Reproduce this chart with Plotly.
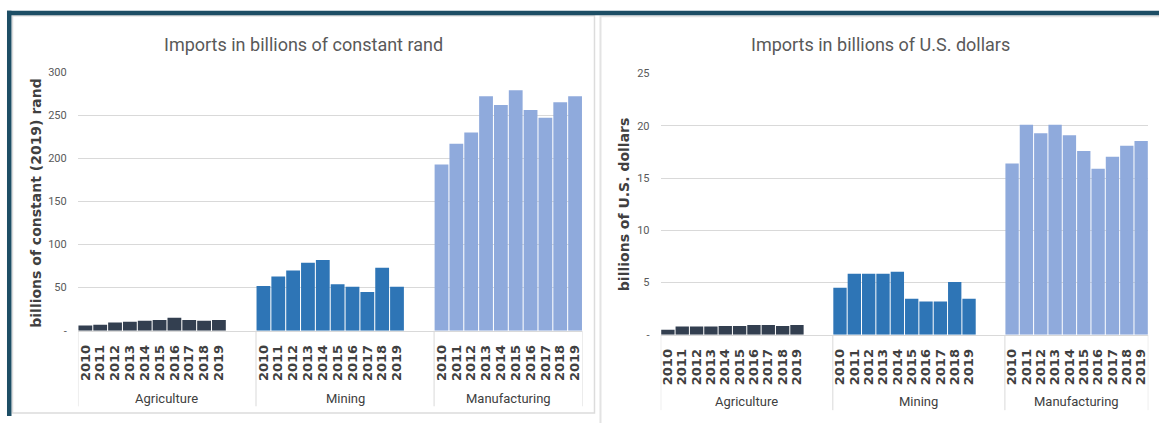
import plotly.graph_objects as go

W, H = 1159, 423

years = ["2010", "2011", "2012", "2013", "2014", "2015", "2016", "2017", "2018", "2019"]
sectors = ["Agriculture", "Mining", "Manufacturing"]
colors = ["#333f50", "#2e75b6", "#8faadc"]

rand_agriculture = [6, 7, 9.5, 10.5, 11.5, 12.5, 15, 12.5, 11.5, 12.5]
rand_mining = [52, 63, 70, 79, 82, 54, 51, 45, 73, 51]
rand_manufacturing = [193, 217, 230, 272, 262, 279, 256, 247, 265, 272]

usd_agriculture = [0.5, 0.8, 0.8, 0.8, 0.85, 0.85, 0.95, 0.95, 0.85, 0.95]
usd_mining = [4.5, 5.85, 5.85, 5.85, 6.05, 3.45, 3.2, 3.2, 5.05, 3.45]
usd_manufacturing = [16.4, 20.1, 19.3, 20.1, 19.1, 17.6, 15.9, 17.05, 18.1, 18.55]

rand_ticks = [0, 50, 100, 150, 200, 250, 300]
rand_ticktext = ["-", "50", "100", "150", "200", "250", "300"]
usd_ticks = [0, 5, 10, 15, 20, 25]
usd_ticktext = ["-", "5", "10", "15", "20", "25"]

SLOTS = 12  # 10 years + 2 blank slots per sector group


def px(x):
    return x / W


def py(y):
    return 1 - y / H


NARROW = "Liberation Sans Narrow, Arial Narrow, Roboto, sans-serif"
BOLD = "DejaVu Sans, Verdana, sans-serif"

fig = go.Figure()

panels = [
    dict(xa="x", ya="y", series=[rand_agriculture, rand_mining, rand_manufacturing]),
    dict(xa="x2", ya="y2", series=[usd_agriculture, usd_mining, usd_manufacturing]),
]

for p in panels:
    for g, vals in enumerate(p["series"]):
        fig.add_trace(go.Bar(
            x=[g * SLOTS + i for i in range(len(years))],
            y=vals,
            marker=dict(color=colors[g], line=dict(width=0)),
            xaxis=p["xa"], yaxis=p["ya"],
            showlegend=False, hoverinfo="skip",
        ))

tickvals = [g * SLOTS + i for g in range(3) for i in range(len(years))]
ticktext = years * 3
xr = [-0.5, 2 * SLOTS + len(years) - 0.5]

xcommon = dict(
    range=xr, tickmode="array", tickvals=tickvals, ticktext=ticktext,
    tickangle=-90, tickfont=dict(family=BOLD, size=13, color="#404040", weight="bold"),
    ticks="outside", ticklen=8, tickcolor="rgba(0,0,0,0)",
    showgrid=False, zeroline=False, showline=True, linecolor="#d9d9d9", linewidth=1,
    fixedrange=True,
)
ycommon = dict(
    tickfont=dict(family=NARROW, size=11, color="#595959"),
    ticks="outside", ticklen=8, tickcolor="rgba(0,0,0,0)",
    showgrid=True, gridcolor="#d9d9d9", gridwidth=1,
    zeroline=False, showline=False, fixedrange=True,
)

fig.update_layout(
    width=W, height=H,
    margin=dict(l=0, r=0, t=0, b=0),
    paper_bgcolor="white", plot_bgcolor="white",
    bargap=0.07,
    xaxis=dict(domain=[px(77), px(582)], anchor="y", **xcommon),
    yaxis=dict(domain=[py(335), py(68.3)], range=[0, 300], anchor="x",
               tickmode="array", tickvals=rand_ticks, ticktext=rand_ticktext, **ycommon),
    xaxis2=dict(domain=[px(660.3), px(1148.3)], anchor="y2", **xcommon),
    yaxis2=dict(domain=[py(339.3), py(69.7)], range=[0, 25], anchor="x2",
                tickmode="array", tickvals=usd_ticks, ticktext=usd_ticktext, **ycommon),
)

shapes = []
# slide decoration: dark teal top bar and left bar
shapes.append(dict(type="rect", xref="paper", yref="paper", x0=px(6), x1=1, y0=py(9.5), y1=py(5),
                   fillcolor="#1d4e65", line=dict(width=0), layer="above"))
shapes.append(dict(type="rect", xref="paper", yref="paper", x0=px(6), x1=px(10.5), y0=0, y1=py(5),
                   fillcolor="#1d4e65", line=dict(width=0), layer="above"))
# panel borders
shapes.append(dict(type="rect", xref="paper", yref="paper", x0=px(11.5), x1=px(594), y0=py(420), y1=py(10),
                   fillcolor="rgba(0,0,0,0)", line=dict(color="#dcdcdc", width=1.5), layer="below"))
shapes.append(dict(type="rect", xref="paper", yref="paper", x0=px(600), x1=px(1170), y0=py(440), y1=py(10.5),
                   fillcolor="rgba(0,0,0,0)", line=dict(color="#e3e3e3", width=2), layer="below"))

# group separators on the category axes
for xa, ybase, ybot in [("x", 335, 413), ("x2", 339.3, 417)]:
    for sx in [-0.5, SLOTS - 0.5, 2 * SLOTS - 0.5, 2 * SLOTS + len(years) - 0.5]:
        shapes.append(dict(type="line", xref=xa, yref="paper", x0=sx, x1=sx, y0=py(ybase), y1=py(ybot),
                           line=dict(color="#d9d9d9", width=1)))

fig.update_layout(shapes=shapes)

annotations = []
group_centers = [(SLOTS - 1) / 2, SLOTS + (SLOTS - 1) / 2, 2 * SLOTS + (len(years) - 1) / 2]
for xa, yl in [("x", 405), ("x2", 408)]:
    for name, cx in zip(sectors, group_centers):
        annotations.append(dict(text=name, xref=xa, yref="paper", x=cx, y=py(yl), showarrow=False,
                                xanchor="center", yanchor="middle",
                                font=dict(family=NARROW, size=13, color="#404040")))

annotations.append(dict(text="Imports in billions of constant rand", xref="paper", yref="paper",
                        x=px(303), y=py(40), showarrow=False, xanchor="center", yanchor="middle",
                        font=dict(family=NARROW, size=18, color="#595959")))
annotations.append(dict(text="Imports in billions of U.S. dollars", xref="paper", yref="paper",
                        x=px(880), y=py(40), showarrow=False, xanchor="center", yanchor="middle",
                        font=dict(family=NARROW, size=18, color="#595959")))
annotations.append(dict(text="billions of constant (2019) rand", xref="paper", yref="paper",
                        x=px(35), y=py(203), showarrow=False, textangle=-90,
                        xanchor="center", yanchor="middle",
                        font=dict(family=BOLD, size=14, color="#404040", weight="bold")))
annotations.append(dict(text="billions of U.S. dollars", xref="paper", yref="paper",
                        x=px(623), y=py(205), showarrow=False, textangle=-90,
                        xanchor="center", yanchor="middle",
                        font=dict(family=BOLD, size=14, color="#404040", weight="bold")))
fig.update_layout(annotations=annotations)

fig.write_html("out.html")
